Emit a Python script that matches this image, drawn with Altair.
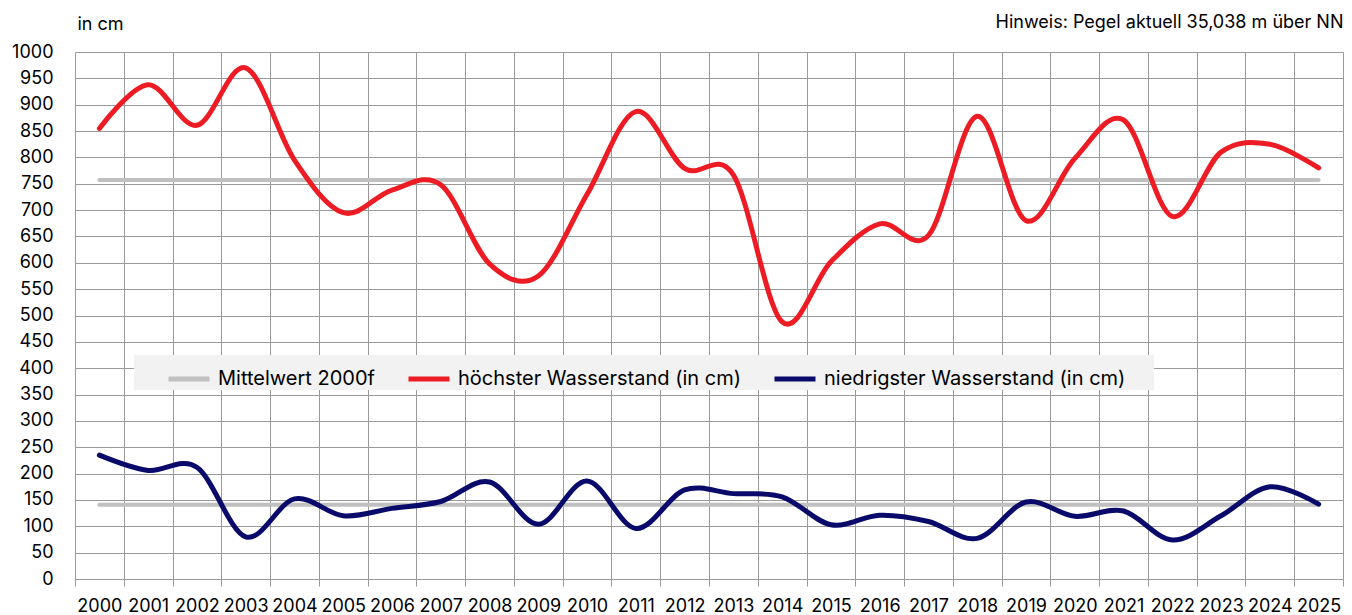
import altair as alt
import pandas as pd

years = list(range(2000, 2026))
high = [855, 938, 861, 970, 795, 695, 738, 748, 598, 575, 730, 887, 779,
        767, 488, 602, 674, 652, 878, 680, 798, 871, 688, 810, 825, 780]
low = [235, 206, 212, 80, 152, 120, 134, 147, 184, 104, 186, 96, 169,
       162, 156, 103, 121, 109, 77, 146, 119, 129, 74, 120, 175, 142]
mean_high = 757
mean_low = 141

S_MEAN = "Mittelwert 2000f"
S_HIGH = "höchster Wasserstand (in cm)"
S_LOW = "niedrigster Wasserstand (in cm)"
series_names = [S_MEAN, S_HIGH, S_LOW]
series_colors = ["#c0c0c0", "#ed1c24", "#0a0a6b"]
y_ticks = list(range(0, 1001, 50))

rows = []
for yr, v in zip(years, high):
    rows.append({"year": yr, "value": v, "series": S_HIGH, "grp": "high"})
for yr, v in zip(years, low):
    rows.append({"year": yr, "value": v, "series": S_LOW, "grp": "low"})
for yr in years:
    rows.append({"year": yr, "value": mean_high, "series": S_MEAN, "grp": "mean_high"})
    rows.append({"year": yr, "value": mean_low, "series": S_MEAN, "grp": "mean_low"})
df = pd.DataFrame(rows)

FONT = "Inter"
GRID = "#9a9a9a"

color = alt.Color(
    "series:N",
    scale=alt.Scale(domain=series_names, range=series_colors),
    legend=alt.Legend(
        title="\u00a0", titleOrient="right", titlePadding=28,
        titleFontSize=6, titleColor="#f2f2f2",
        orient="none", legendX=59, legendY=303,
        direction="horizontal", fillColor="#f2f2f2", padding=1,
        symbolType="stroke", symbolSize=1681, symbolStrokeWidth=5,
        symbolOffset=31, labelOffset=6, columnPadding=0,
        labelFontSize=20, labelFont=FONT, labelColor="#000000",
        labelLimit=500,
    ),
)

x = alt.X(
    "year:O",
    scale=alt.Scale(type="band", paddingInner=0, paddingOuter=0),
    axis=alt.Axis(
        title=None, labelAngle=0, tickBand="extent", grid=True,
        gridColor=GRID, tickSize=7, tickColor=GRID, domainColor=GRID,
        labelPadding=11, labelFontSize=18, labelFont=FONT,
        labelColor="#000000",
    ),
)

y_left = alt.Y(
    "value:Q",
    scale=alt.Scale(domain=[0, 1000], nice=False),
    axis=alt.Axis(
        values=y_ticks, format="d", grid=True, gridColor=GRID, ticks=False,
        domain=False, labelPadding=22, labelFontSize=18, labelFont=FONT,
        labelColor="#000000", title="in cm", titleAngle=0,
        titleAlign="left", titleBaseline="alphabetic", titleX=2,
        titleY=-23, titleFontSize=18, titleFontWeight="normal",
        titleFont=FONT, titleColor="#000000",
    ),
)

y_right = alt.Y(
    "value:Q",
    axis=alt.Axis(
        orient="right", labels=False, ticks=False, domain=False,
        grid=False, title="Hinweis: Pegel aktuell 35,038 m über NN",
        titleAngle=0, titleAlign="right", titleBaseline="alphabetic",
        titleX=0, titleY=-25, titleFontSize=18, titleFontWeight="normal",
        titleFont=FONT, titleColor="#000000",
    ),
)

base = alt.Chart(df)

mean_layer = base.transform_filter(alt.datum.series == S_MEAN).mark_line(
    strokeWidth=4, strokeCap="round", interpolate="cardinal"
).encode(x=x, y=y_left, color=color, detail="grp:N")

data_layer = base.transform_filter(alt.datum.series != S_MEAN).mark_line(
    strokeWidth=5, strokeCap="round", strokeJoin="round", interpolate="cardinal"
).encode(x=x, y=alt.Y("value:Q", axis=None), color=color, detail="grp:N")

note_layer = base.mark_line(strokeOpacity=0).encode(
    x=x, y=y_right, detail="grp:N"
)

chart = alt.layer(mean_layer, data_layer, note_layer).resolve_axis(
    y="independent"
).properties(
    width=1268, height=527,
    padding={"left": 67, "top": 44, "right": 1, "bottom": 36},
    autosize=alt.AutoSizeParams(type="none"),
).configure_view(stroke=None)

chart.save("out.html", embed_options={"renderer": "svg", "actions": False})
